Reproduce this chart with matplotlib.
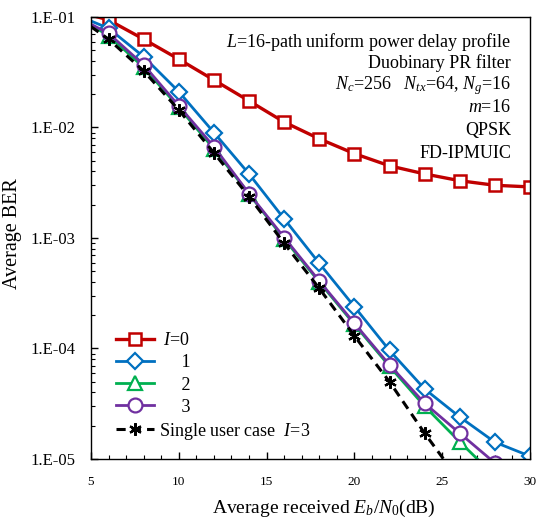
import matplotlib
matplotlib.use("Agg")
import matplotlib.pyplot as plt
from matplotlib.ticker import FixedLocator, FuncFormatter, MultipleLocator, LogLocator, NullFormatter

plt.rcParams['font.family'] = ['Liberation Serif', 'DejaVu Serif']
plt.rcParams['mathtext.fontset'] = 'custom'
plt.rcParams['mathtext.rm'] = 'Liberation Serif'
plt.rcParams['mathtext.it'] = 'Liberation Serif:italic'

snr = [5, 6, 8, 10, 12, 14, 16, 18, 20, 22, 24, 26, 28, 30]
ber_i0 = [0.104, 0.094, 0.063, 0.0415, 0.0269, 0.0174, 0.0112, 0.0079, 0.0058, 0.0045, 0.0038, 0.0033, 0.0030, 0.0029]
ber_i1 = [0.092, 0.079, 0.0437, 0.0211, 0.0090, 0.0038, 0.00149, 0.00059, 0.000239, 9.6e-5, 4.3e-5, 2.4e-5, 1.42e-5, 1.06e-5]
snr_23 = [5, 6, 8, 10, 12, 14, 16, 18, 20, 22, 24, 26, 28]
ber_i2 = [0.084, 0.068, 0.035, 0.0152, 0.0064, 0.0025, 0.00098, 0.0004, 0.000165, 6.9e-5, 3.0e-5, 1.43e-5, 7.0e-6]
ber_i3 = [0.086, 0.0711, 0.0368, 0.0157, 0.0067, 0.00252, 0.00101, 0.000408, 0.000169, 7.1e-5, 3.19e-5, 1.71e-5, 9.2e-6]
snr_su = [5, 6, 8, 10, 12, 14, 16, 18, 20, 22, 24, 26]
ber_su = [0.0817, 0.063, 0.0325, 0.0144, 0.0059, 0.00237, 0.000895, 0.00035, 0.00013, 5.0e-5, 1.71e-5, 6.3e-6]

fig = plt.figure(figsize=(5.36, 5.22), dpi=100)
ax = fig.add_axes([91/536, 1-459/522, (530-91)/536, (459-17)/522])

me = slice(1, None)
ax.plot(snr, ber_i0, color='#C00000', lw=2.4, marker='s', ms=9, mfc='white', mec='#C00000', mew=1.8,
        markevery=me, label=' $I$=0')
ax.plot(snr, ber_i1, color='#0070C0', lw=2.0, marker='D', ms=8, mfc='white', mec='#0070C0', mew=1.6,
        markevery=me, label='     1')
ax.plot(snr_23, ber_i2, color='#00B050', lw=2.0, marker='^', ms=10, mfc='white', mec='#00B050', mew=1.6,
        markevery=me, label='     2')
ax.plot(snr_23, ber_i3, color='#7030A0', lw=2.0, marker='o', ms=10, mfc='white', mec='#7030A0', mew=1.6,
        markevery=me, label='     3')
ax.plot(snr_su, ber_su, color='black', lw=2.2, ls=(0, (3, 2)), marker=(6, 2, 0), ms=9, mew=1.6,
        markevery=me, label='Single user case  $I$=3')

ax.set_yscale('log')
ax.set_xlim(5, 30)
ax.set_ylim(1e-5, 1e-1)

ax.xaxis.set_major_locator(FixedLocator([5, 10, 15, 20, 25, 30]))
ax.xaxis.set_minor_locator(MultipleLocator(1))
ax.yaxis.set_major_locator(FixedLocator([1e-5, 1e-4, 1e-3, 1e-2, 1e-1]))
ax.yaxis.set_minor_locator(LogLocator(base=10, subs=range(2, 10)))
ax.yaxis.set_minor_formatter(NullFormatter())

def yfmt(v, pos):
    import math
    e = int(round(math.log10(v)))
    return "1.E%s%02d" % ('-' if e < 0 else '+', abs(e))
ax.yaxis.set_major_formatter(FuncFormatter(yfmt))

ax.tick_params(axis='both', which='both', direction='in', top=False, right=False)
ax.tick_params(axis='both', which='major', length=5, width=1)
ax.tick_params(axis='both', which='minor', length=3, width=0.8)
ax.tick_params(axis='y', which='major', labelsize=12, pad=11)
ax.tick_params(axis='x', which='major', labelsize=9.5, pad=12)
for s in ax.spines.values():
    s.set_linewidth(1.0)

ax.set_ylabel('Average BER', fontsize=14.5)
ax.yaxis.set_label_coords(-0.158, 0.511)
ax.set_xlabel('Average received $E_b$/$N_0$(dB)', fontsize=14)
ax.xaxis.set_label_coords((324-91)/439, -0.087)

txt = ['$L$=16-path uniform power delay profile',
       'Duobinary PR filter',
       '$N_c$=256   $N_{tx}$=64, $N_g$=16',
       '$m$=16',
       'QPSK',
       'FD-IPMUIC']
ys = [42, 63, 86, 108, 131, 153]
for t, y in zip(txt, ys):
    fig.text(511/536, 1 - y/522, t, ha='right', va='center', fontsize=13)

leg = ax.legend(loc='lower left', bbox_to_anchor=(0.041, 0.023), frameon=False, fontsize=13,
                handlelength=2.1, handletextpad=0.25, labelspacing=0.28, borderaxespad=0)

fig.savefig('out.png', dpi=100)
